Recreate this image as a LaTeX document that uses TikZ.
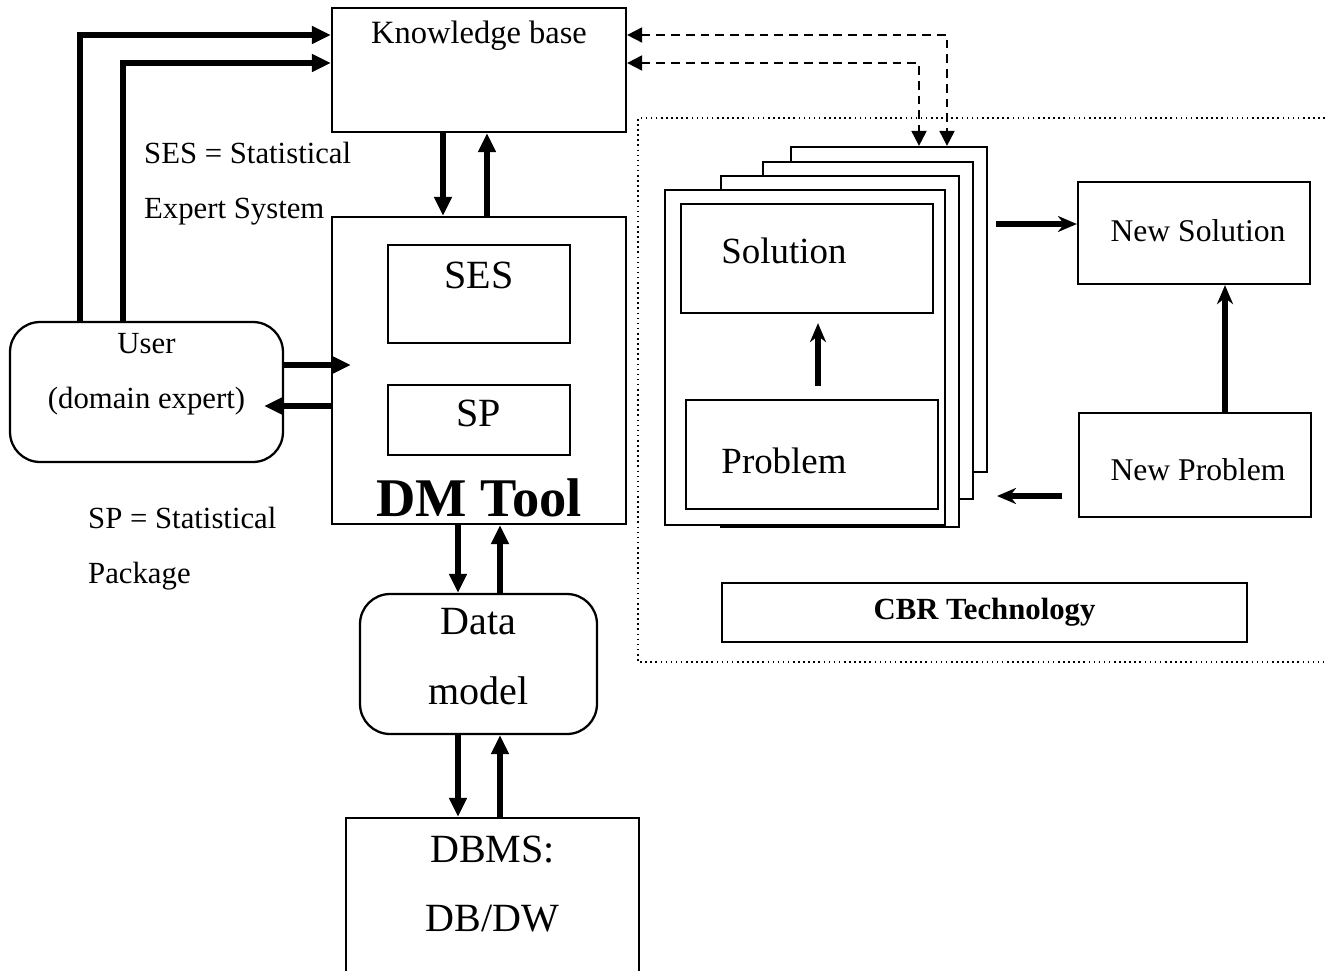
\documentclass[tikz,border=0pt]{standalone}
\usepackage{fontspec}
\setmainfont{Liberation Serif}
\usetikzlibrary{arrows.meta}

\begin{document}
\begin{tikzpicture}[x=0.02cm, y=-0.02cm,
    box/.style={draw, line width=1.3pt, fill=white, inner sep=0pt},
    rbox/.style={box, rounded corners=0.6cm},
    arr/.style={line width=3.4pt, -{Triangle[length=0.38cm, width=0.34cm]}},
    darr/.style={line width=1.1pt, dash pattern=on 5pt off 3.4pt,
        {Triangle[length=0.3cm, width=0.3cm]}-{Triangle[length=0.3cm, width=0.3cm]}},
    carr/.style={line width=3pt, -{Stealth[length=0.38cm, width=0.32cm]}},
    small/.style={font=\fontsize{17.5}{31.3}\selectfont},
    big/.style={font=\fontsize{22.8}{39.8}\selectfont}]
        \clip (0,0) rectangle (1328,970);
        \useasboundingbox (0,0) rectangle (1328,970);

        % Draw nodes
        \node[box, minimum width=5.88cm, minimum height=2.48cm] (kb) at (479,70) {};
        \node[font=\fontsize{18.5}{22}\selectfont] (kbtext) at (479,36) {Knowledge base};
        \node[box, minimum width=5.88cm, minimum height=6.14cm] (dm) at (479,370.5) {};
        \node[box, minimum width=3.64cm, minimum height=1.96cm] (ses) at (479,294) {};
        \node[big] (sestext) at (479,275) {SES};
        \node[box, minimum width=3.64cm, minimum height=1.40cm] (sp) at (479,420) {};
        \node[big] (sptext) at (479,413) {SP};
        \node[font=\fontsize{31}{36}\selectfont\bfseries] (dmtext) at (479,498) {DM Tool};
        \node[rbox, minimum width=5.46cm, minimum height=2.80cm] (user) at (146.5,392) {};
        \node[small, align=center] (usertext) at (146.5,374) {User\\(domain expert)};
        \node[rbox, minimum width=4.74cm, minimum height=2.80cm] (data) at (478.5,664) {};
        \node[big, align=center] (datatext) at (478.5,657) {Data\\model};
        \node[box, minimum width=5.86cm, minimum height=4cm] (dbms) at (492.5,918) {};
        \node[big, align=center] (dbmstext) at (492.5,884) {DBMS:\\DB/DW};
        \node[small, align=left, anchor=west] (seslabel) at (138,184) {SES = Statistical\\Expert System};
        \node[small, align=left, anchor=west] (splabel) at (82,549) {SP = Statistical\\Package};

        % CBR part
        \draw[line width=0.9pt, dotted] (1330,118) -- (638,118) -- (638,662) -- (1330,662);
        \node[box, minimum width=3.92cm, minimum height=6.50cm] (page4) at (889,309.5) {};
        \node[box, minimum width=4.20cm, minimum height=6.74cm] (page3) at (868,330.5) {};
        \node[box, minimum width=4.76cm, minimum height=7.02cm] (page2) at (840,351.5) {};
        \node[box, minimum width=5.60cm, minimum height=6.70cm] (page1) at (805,357.5) {};
        \node[box, minimum width=5.04cm, minimum height=2.18cm] (sol) at (807,258.5) {};
        \node[font=\fontsize{21}{25}\selectfont] (soltext) at (784,251) {Solution};
        \node[box, minimum width=5.04cm, minimum height=2.18cm] (prob) at (812,454.5) {};
        \node[font=\fontsize{21}{25}\selectfont] (probtext) at (784,461) {Problem};
        \node[box, minimum width=4.64cm, minimum height=2.04cm] (nsol) at (1194,233) {};
        \node[font=\fontsize{18}{22}\selectfont] (nsoltext) at (1198,231) {New Solution};
        \node[box, minimum width=4.64cm, minimum height=2.08cm] (nprob) at (1195,465) {};
        \node[font=\fontsize{18}{22}\selectfont] (nprobtext) at (1198,470) {New Problem};
        \node[box, minimum width=10.5cm, minimum height=1.18cm] (cbr) at (984.5,612.5) {};
        \node[font=\fontsize{17.5}{20}\selectfont\bfseries] (cbrtext) at (984.5,612) {CBR Technology};
        \coordinate (stackout) at (996,224);
        \coordinate (npout) at (1062,496);
        \coordinate (stackin) at (997,496);

        % Draw connections
        \draw[arr] (user.north -| 80,0) |- (kb.west |- 0,35);
        \draw[arr, {Triangle[length=0.38cm, width=0.34cm]}-] (kb.west |- 0,63) -| (user.north -| 123,0);
        \draw[arr] (kb.south -| 443,0) -- (dm.north -| 443,0);
        \draw[arr] (dm.north -| 487,0) -- (kb.south -| 487,0);
        \draw[arr, shorten >=-0.4cm] (user.east |- 0,365) -- (dm.west |- 0,365);
        \draw[arr, shorten >=-0.4cm] (dm.west |- 0,406) -- (user.east |- 0,406);
        \draw[arr] (dm.south -| 458,0) -- (data.north -| 458,0);
        \draw[arr] (data.north -| 500,0) -- (dm.south -| 500,0);
        \draw[arr] (data.south -| 458,0) -- (dbms.north -| 458,0);
        \draw[arr] (dbms.north -| 500,0) -- (data.south -| 500,0);
        \draw[darr] (kb.east |- 0,35) -| (page4.north -| 947,0);
        \draw[darr] (kb.east |- 0,63) -| (page4.north -| 919,0);
        \draw[carr, shorten <=0.26cm, shorten >=0.18cm] (prob.north -| 818,0) -- (sol.south -| 818,0);
        \draw[carr] (stackout) -- (nsol.west |- stackout);
        \draw[carr] (nprob.north -| 1225,0) -- (nsol.south -| 1225,0);
        \draw[carr] (npout) -- (stackin);
    \end{tikzpicture}
\end{document}
